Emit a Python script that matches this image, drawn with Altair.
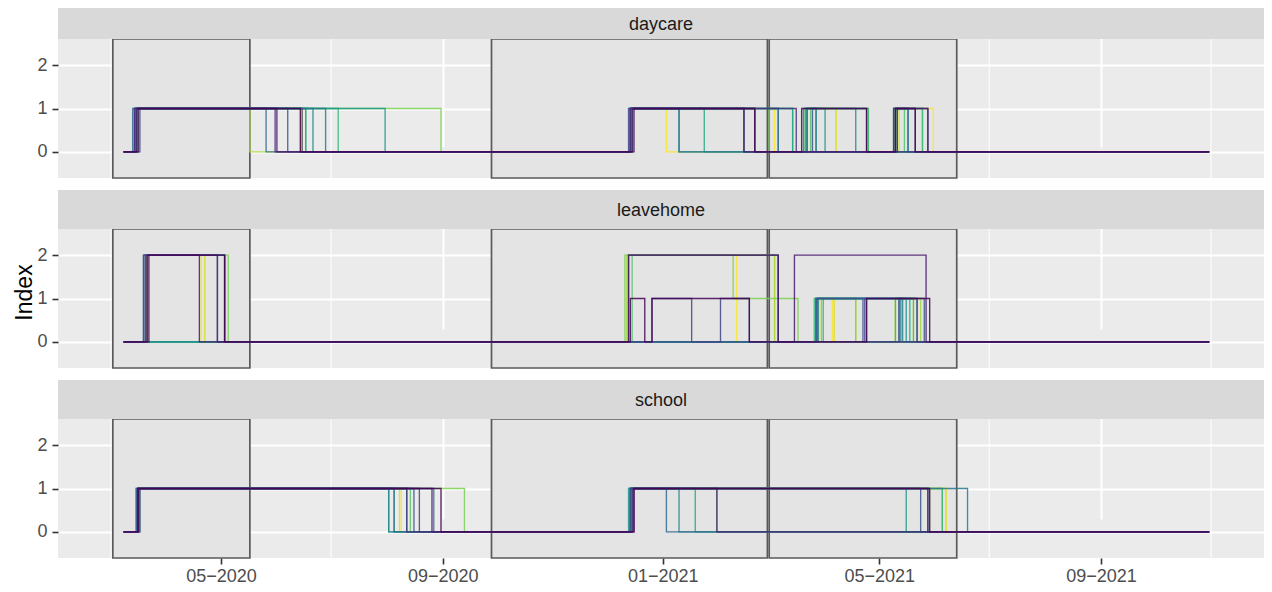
import altair as alt
import pandas as pd

# ---------------- data ----------------
FACETS = ["daycare", "leavehome", "school"]
REGIONS = ["Baden-Württemberg", "Bayern", "Berlin", "Brandenburg", "Bremen", "Hamburg",
           "Hessen", "Mecklenburg-Vorpommern", "Niedersachsen", "Nordrhein-Westfalen",
           "Rheinland-Pfalz", "Saarland", "Sachsen", "Sachsen-Anhalt",
           "Schleswig-Holstein", "Thüringen"]
VIRIDIS = ["#440154", "#481A6C", "#472F7D", "#414487", "#39568C", "#31688E", "#2A788E",
           "#23888E", "#1F988B", "#22A884", "#35B779", "#54C568", "#7AD151", "#A5DB36",
           "#D2E21B", "#FDE725"]

SERIES_START = "2020-03-08"
SERIES_END = "2021-10-31"

PERIOD_STARTS = ["2020-03-02", "2020-09-28", "2021-03-01"]
PERIOD_ENDS = ["2020-05-17", "2021-02-28", "2021-06-13"]

MAJOR_TICKS = ["2020-05-01", "2020-09-01", "2021-01-01", "2021-05-01", "2021-09-01"]
MINOR_GRID = ["2020-03-01", "2020-07-01", "2020-11-01", "2021-03-01", "2021-07-01", "2021-11-01"]

# intervals (start, end[, value]) per region, value 1 if omitted
DAYCARE = [
    [("2020-03-16", "2020-06-14"), ("2020-12-16", "2021-02-21"), ("2021-03-19", "2021-04-24"), ("2021-05-10", "2021-05-21")],
    [("2020-03-15", "2020-06-01"), ("2020-12-15", "2021-02-15"), ("2021-05-11", "2021-05-28")],
    [("2020-03-14", "2020-05-31"), ("2020-12-14", "2021-03-16")],
    [("2020-03-17", "2020-06-15"), ("2020-12-13", "2021-02-21"), ("2021-05-09", "2021-05-21")],
    [("2020-03-14", "2020-06-07"), ("2020-12-15", "2021-02-15"), ("2021-03-25", "2021-04-24"), ("2021-05-09", "2021-05-28")],
    [("2020-03-13", "2020-05-26"), ("2020-12-14", "2021-03-06"), ("2021-05-09", "2021-05-17")],
    [("2020-03-16", "2020-06-28"), ("2020-12-14", "2021-01-10"), ("2021-03-22", "2021-03-27")],
    [("2020-03-15", "2020-06-21"), ("2020-12-14", "2021-01-10"), ("2021-03-20", "2021-04-18"), ("2021-05-10", "2021-05-17")],
    [("2020-03-15", "2020-07-31"), ("2020-12-14", "2021-03-06"), ("2021-03-22", "2021-04-01")],
    [("2020-03-15", "2020-06-17"), ("2020-12-14", "2021-01-24"), ("2021-03-01", "2021-03-14"), ("2021-03-21", "2021-03-27")],
    [("2020-03-14", "2020-07-05"), ("2020-12-14", "2021-03-14"), ("2021-03-22", "2021-04-25"), ("2021-05-11", "2021-05-25")],
    [("2020-03-15", "2020-06-17"), ("2020-12-14", "2021-02-21"), ("2021-03-22", "2021-03-24"), ("2021-05-10", "2021-05-15")],
    [("2020-03-15", "2020-08-31"), ("2020-12-15", "2021-02-15"), ("2021-05-10", "2021-05-25")],
    [("2020-03-15", "2020-05-17"), ("2020-12-15", "2021-02-21"), ("2021-03-21", "2021-04-25")],
    [("2020-03-16", "2020-06-14"), ("2020-12-15", "2021-02-21"), ("2021-03-22", "2021-04-07"), ("2021-05-09", "2021-05-12")],
    [("2020-03-16", "2020-06-15"), ("2020-12-14", "2021-01-03"), ("2021-03-01", "2021-03-04"), ("2021-03-22", "2021-04-07"), ("2021-05-10", "2021-05-31")],
]

LEAVEHOME = [
    [("2020-03-22", "2020-05-03", 2), ("2020-12-14", "2020-12-22", 1), ("2020-12-26", "2021-02-18", 1), ("2021-04-24", "2021-05-29", 1)],
    [("2020-03-21", "2020-04-19", 2), ("2020-12-13", "2021-03-06", 2), ("2021-03-15", "2021-05-27", 2)],
    [("2020-03-21", "2020-04-29", 2), ("2020-12-13", "2021-03-06", 2)],
    [("2020-03-20", "2020-04-29", 2), ("2020-12-26", "2021-01-17", 1), ("2021-02-02", "2021-02-18", 1), ("2021-04-23", "2021-05-22", 1)],
    [("2020-03-19", "2020-05-03", 2), ("2021-03-27", "2021-04-22", 1), ("2021-05-12", "2021-05-26", 1)],
    [("2020-03-19", "2020-05-03", 2), ("2021-03-27", "2021-05-12", 1)],
    [("2020-03-20", "2020-05-03", 2), ("2021-03-28", "2021-04-24", 1), ("2021-05-13", "2021-05-22", 1)],
    [("2021-03-28", "2021-05-14", 1)],
    [("2021-03-27", "2021-05-16", 1)],
    [("2021-03-28", "2021-05-18", 1)],
    [("2021-03-26", "2021-03-31", 1), ("2021-05-10", "2021-05-20", 1)],
    [("2020-12-15", "2021-03-06", 2)],
    [("2020-03-21", "2020-05-05", 2), ("2020-12-11", "2021-02-09", 2), ("2021-02-09", "2021-03-17", 1), ("2021-03-30", "2021-04-18", 1)],
    [("2020-12-12", "2021-03-04", 2), ("2021-05-10", "2021-05-24", 1)],
    [("2020-03-21", "2020-04-22", 2), ("2020-12-13", "2021-03-04", 2), ("2021-04-06", "2021-04-18", 1)],
    [("2020-03-21", "2020-04-20", 2), ("2020-12-13", "2021-02-11", 2), ("2021-03-29", "2021-04-05", 1), ("2021-05-10", "2021-05-20", 1)],
]

SCHOOL = [
    [("2020-03-16", "2020-08-31"), ("2020-12-16", "2021-05-29")],
    [("2020-03-16", "2020-08-26"), ("2020-12-16", "2021-01-31")],
    [("2020-03-17", "2020-08-12"), ("2020-12-15", "2021-05-28")],
    [("2020-03-16", "2020-08-19"), ("2020-12-15", "2021-05-28")],
    [("2020-03-15", "2020-08-16"), ("2020-12-14", "2021-05-24")],
    [("2020-03-16", "2020-08-05"), ("2020-12-14", "2021-01-03")],
    [("2020-03-16", "2020-08-27"), ("2020-12-14", "2021-06-19")],
    [("2020-03-15", "2020-08-02"), ("2020-12-14", "2021-01-10")],
    [("2020-03-16", "2020-08-02"), ("2020-12-13", "2021-05-16")],
    [("2020-03-16", "2020-08-12"), ("2020-12-14", "2021-01-19")],
    [("2020-03-17", "2020-08-05"), ("2020-12-14", "2021-06-05")],
    [("2020-03-16", "2020-08-14"), ("2020-12-14", "2021-01-31")],
    [("2020-03-16", "2020-09-13"), ("2020-12-14", "2021-06-05")],
    [("2020-03-16", "2020-08-12"), ("2020-12-15", "2021-05-29")],
    [("2020-03-16", "2020-08-08"), ("2020-12-15", "2021-06-07")],
    [("2020-03-16", "2020-08-09"), ("2020-12-15", "2021-06-07")],
]

FACET_DATA = {"daycare": DAYCARE, "leavehome": LEAVEHOME, "school": SCHOOL}


def step_points(intervals):
    pts = [[SERIES_START, 0]]
    for iv in intervals:
        s, e = iv[0], iv[1]
        v = iv[2] if len(iv) > 2 else 1
        if pts[-1][0] == s:
            pts[-1][1] = v
        else:
            pts.append([s, v])
        pts.append([e, 0])
    if pts[-1][0] != SERIES_END:
        pts.append([SERIES_END, 0])
    return pts


def facet_frame(name):
    rows = []
    data = FACET_DATA[name]
    for idx in reversed(range(len(data))):   # darkest drawn last (on top)
        for d, v in step_points(data[idx]):
            rows.append({"region": REGIONS[idx], "date": d, "value": v})
    return pd.DataFrame(rows)


def dt(s, hours=0, minutes=0):
    y, m, d = (int(p) for p in s.split("-"))
    return alt.DateTime(year=y, month=m, date=d, hours=hours, minutes=minutes, utc=True)


# ---------------- chart ----------------
FONT = "Liberation Sans"
W = 1206
PANEL_H = 139
STRIP_H = [31, 39, 39]

x_scale = alt.Scale(type="utc", domain=[dt("2020-01-31", 14, 24), dt("2021-11-30", 9, 36)])
major_vals = [dt(s) for s in MAJOR_TICKS]


def x_axis(show_labels):
    if show_labels:
        return alt.Axis(values=major_vals, format="%m\u2212%Y", title=None, domain=False,
                        grid=True, gridColor="white", gridWidth=2,
                        ticks=True, tickSize=6, tickColor="#333333", tickWidth=1.6,
                        labels=True, labelFont=FONT, labelFontSize=18, labelColor="#4D4D4D",
                        labelPadding=3, labelOverlap=False, labelFlush=False)
    return alt.Axis(values=major_vals, title=None, domain=False, grid=True,
                    gridColor="white", gridWidth=2, ticks=False, labels=False)


def y_axis(show_title, title_y):
    return alt.Axis(values=[0, 1, 2], title="Index", titleOpacity=1 if show_title else 0,
                    titleFont=FONT, titleFontSize=23, titleFontWeight="normal",
                    titleColor="#000000", titlePadding=0, titleY=title_y,
                    domain=False, grid=True, gridColor="white", gridWidth=2,
                    ticks=True, tickSize=6, tickColor="#333333", tickWidth=1.6,
                    labelFont=FONT, labelFontSize=18, labelColor="#4D4D4D", labelPadding=5)


def panel(i, name):
    sh = STRIP_H[i]
    H = sh + PANEL_H
    y_scale = alt.Scale(domain=[-0.6, 2.6], range=[H, sh], nice=False, zero=False)
    xa = x_axis(i == 2)
    ya = y_axis(i == 1, sh + 63)

    minor = alt.Chart(pd.DataFrame({"date": MINOR_GRID})).mark_rule(
        color="white", strokeWidth=1
    ).encode(
        x=alt.X("date:T", scale=x_scale, axis=xa),
        y=alt.value(sh), y2=alt.value(H),
    )

    rects = alt.Chart(pd.DataFrame({"start": PERIOD_STARTS, "end": PERIOD_ENDS})).mark_rect(
        fill="#E4E4E4", stroke="#5A5A5A", strokeWidth=1.7
    ).encode(
        x=alt.X("start:T", scale=x_scale, axis=xa),
        x2="end:T",
        y=alt.value(sh), y2=alt.value(H),
    )

    lines = alt.Chart(facet_frame(name)).mark_line(
        interpolate="step-after", strokeWidth=1.35, opacity=0.85
    ).encode(
        x=alt.X("date:T", scale=x_scale, axis=xa),
        y=alt.Y("value:Q", scale=y_scale, axis=ya),
        color=alt.Color("region:N", scale=alt.Scale(domain=REGIONS, range=VIRIDIS), legend=None),
    )

    label_df = pd.DataFrame({"label": [name]})
    strip = alt.Chart(label_df).mark_rect(fill="#D9D9D9").encode(
        x=alt.value(0), x2=alt.value(W), y=alt.value(0), y2=alt.value(sh)
    )
    strip_text = alt.Chart(label_df).mark_text(
        font=FONT, fontSize=18, color="#1A1A1A", baseline="middle", align="center"
    ).encode(text="label:N", x=alt.value(W / 2), y=alt.value(sh / 2 + 1))

    return alt.layer(minor, rects, lines, strip, strip_text).properties(
        width=W, height=H, view=alt.ViewBackground(fill="#EBEBEB", stroke=None)
    )


chart = alt.vconcat(*[panel(i, n) for i, n in enumerate(FACETS)], spacing=11).properties(
    padding={"left": 5, "top": 0, "right": 0, "bottom": 0}
).configure_view(stroke=None)

chart.save("out.html", embed_options={"renderer": "svg", "actions": False})
